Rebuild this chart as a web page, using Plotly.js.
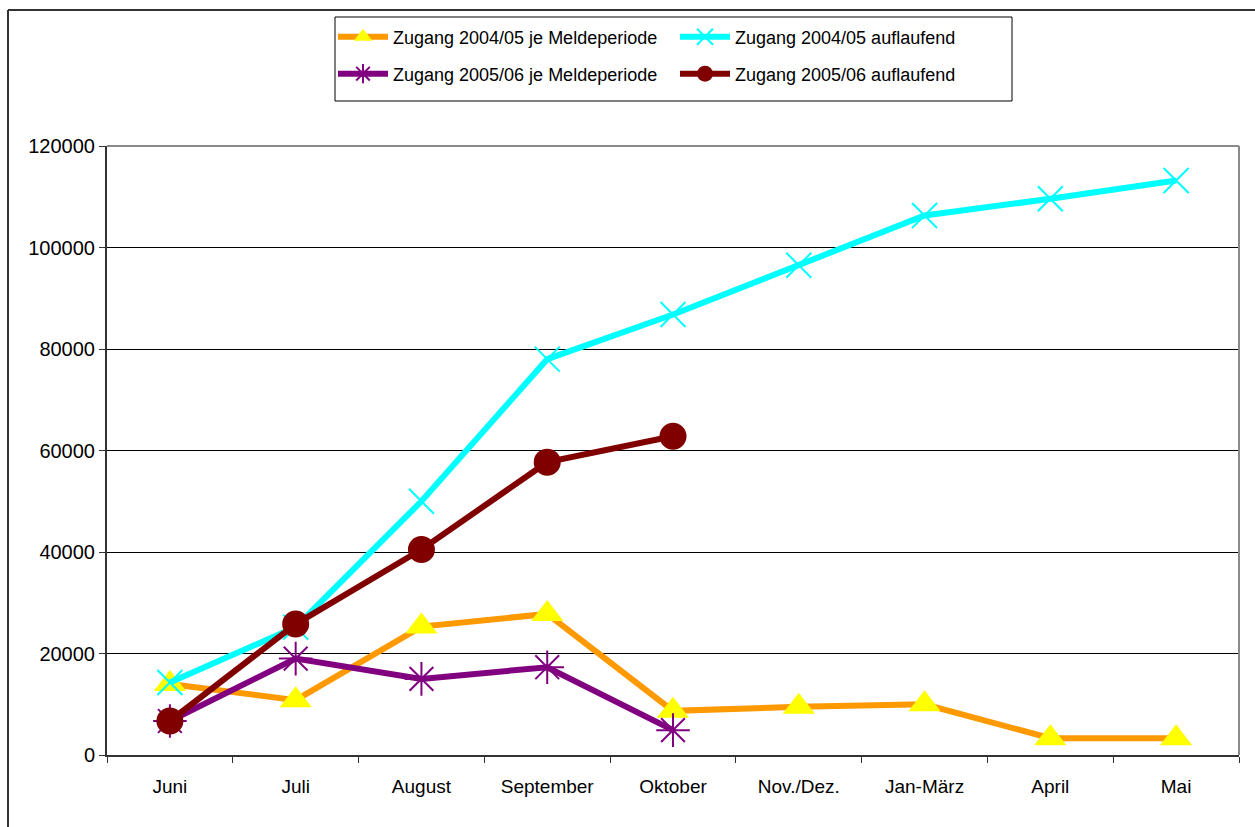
<!DOCTYPE html>
<html>
<head>
<meta charset="utf-8">
<script src="https://cdn.plot.ly/plotly-3.0.1.min.js"></script>
<style>
html,body{margin:0;padding:0;background:#fff;}
#chart{width:1255px;height:827px;}
</style>
</head>
<body>
<div id="chart"></div>
<script>
const categories = ['Juni','Juli','August','September','Oktober','Nov./Dez.','Jan-März','April','Mai'];
const zugang0405 = [14000, 10800, 25300, 27800, 8700, 9500, 10000, 3300, 3300];
const auflaufend0405 = [14300, 25200, 50000, 78000, 86800, 96500, 106300, 109600, 113200];
const zugang0506 = [6700, 19000, 15000, 17300, 4900];
const auflaufend0506 = [6700, 25800, 40500, 57700, 62800];
const seriesNames = ['Zugang 2004/05 je Meldeperiode','Zugang 2004/05 auflaufend','Zugang 2005/06 je Meldeperiode','Zugang 2005/06 auflaufend'];
const yTicks = [0,20000,40000,60000,80000,100000,120000];

const FONT = 'Liberation Sans, Arial, sans-serif';
const W = 1255, H = 827;
const L = 107, R = 16, T = 146, B = 72;
const pw = W - L - R, ph = H - T - B;
const px = v => (v - L) / pw;
const py = v => (H - B - v) / ph;

const traces = [
  {x: categories, y: zugang0405, name: seriesNames[0], type: 'scatter', mode: 'lines+markers',
   line: {color: '#FF9900', width: 6},
   marker: {symbol: 'triangle-up', size: 28, color: '#FFFF00', line: {width: 0}}, legend: 'legend'},
  {x: categories, y: auflaufend0405, name: seriesNames[1], type: 'scatter', mode: 'lines+markers',
   line: {color: '#00FFFF', width: 6},
   marker: {symbol: 'x-thin-open', size: 25, color: '#00FFFF', line: {width: 2, color: '#00FFFF'}}, legend: 'legend'},
  {x: categories.slice(0, zugang0506.length), y: zugang0506, name: seriesNames[2], type: 'scatter', mode: 'lines+markers',
   line: {color: '#800080', width: 6},
   marker: {symbol: 'asterisk-open', size: 28, color: '#800080', line: {width: 2, color: '#800080'}}, legend: 'legend2'},
  {x: categories.slice(0, auflaufend0506.length), y: auflaufend0506, name: seriesNames[3], type: 'scatter', mode: 'lines+markers',
   line: {color: '#800000', width: 6},
   marker: {symbol: 'circle', size: 27, color: '#800000', line: {width: 0}}, legend: 'legend2'}
];

const legendCommon = {
  orientation: 'h', xanchor: 'left', yanchor: 'middle',
  font: {family: FONT, size: 18, color: '#000'},
  bgcolor: 'rgba(0,0,0,0)', borderwidth: 0,
  itemwidth: 50, entrywidth: 277, entrywidthmode: 'pixels',
  tracegroupgap: 0, itemclick: false, itemdoubleclick: false
};

const layout = {
  width: W, height: H,
  margin: {l: L, r: R, t: T, b: B, pad: 0},
  paper_bgcolor: '#fff', plot_bgcolor: '#fff',
  font: {family: FONT, size: 19, color: '#000'},
  showlegend: true,
  legend: Object.assign({}, legendCommon, {x: px(333), y: py(37)}),
  legend2: Object.assign({}, legendCommon, {x: px(333), y: py(74)}),
  xaxis: {
    type: 'category', range: [-0.5, categories.length - 0.5],
    showgrid: false, zeroline: false,
    showline: true, linecolor: '#333', linewidth: 2,
    ticks: 'outside', tickson: 'boundaries', ticklen: 6, tickcolor: '#333', tickwidth: 1,
    ticklabelstandoff: 13,
    tickfont: {family: FONT, size: 19, color: '#000'}
  },
  yaxis: {
    range: [0, 120000], tickvals: yTicks, ticktext: yTicks.map(String),
    showgrid: true, gridcolor: '#000', gridwidth: 1,
    zeroline: false, showline: true, linecolor: '#333', linewidth: 2,
    ticks: 'outside', ticklen: 6, tickcolor: '#333', tickwidth: 1,
    tickfont: {family: FONT, size: 20, color: '#000'}
  },
  shapes: [
    {type: 'line', xref: 'paper', yref: 'paper', x0: 0, x1: 1, y0: 1, y1: 1, line: {color: '#8a8a8a', width: 2}},
    {type: 'line', xref: 'paper', yref: 'paper', x0: 1, x1: 1, y0: 0, y1: 1, line: {color: '#8a8a8a', width: 2}},
    {type: 'rect', xref: 'paper', yref: 'paper', x0: px(335), x1: px(1012), y0: py(101), y1: py(17),
     line: {color: '#000', width: 1}, fillcolor: 'rgba(0,0,0,0)'},
    {type: 'line', xref: 'paper', yref: 'paper', x0: px(8), x1: px(1262), y0: py(10), y1: py(10), line: {color: '#333', width: 2}},
    {type: 'line', xref: 'paper', yref: 'paper', x0: px(8), x1: px(8), y0: py(10), y1: py(835), line: {color: '#333', width: 2}}
  ]
};

Plotly.newPlot('chart', traces, layout, {displayModeBar: false, staticPlot: true});
</script>
</body>
</html>
